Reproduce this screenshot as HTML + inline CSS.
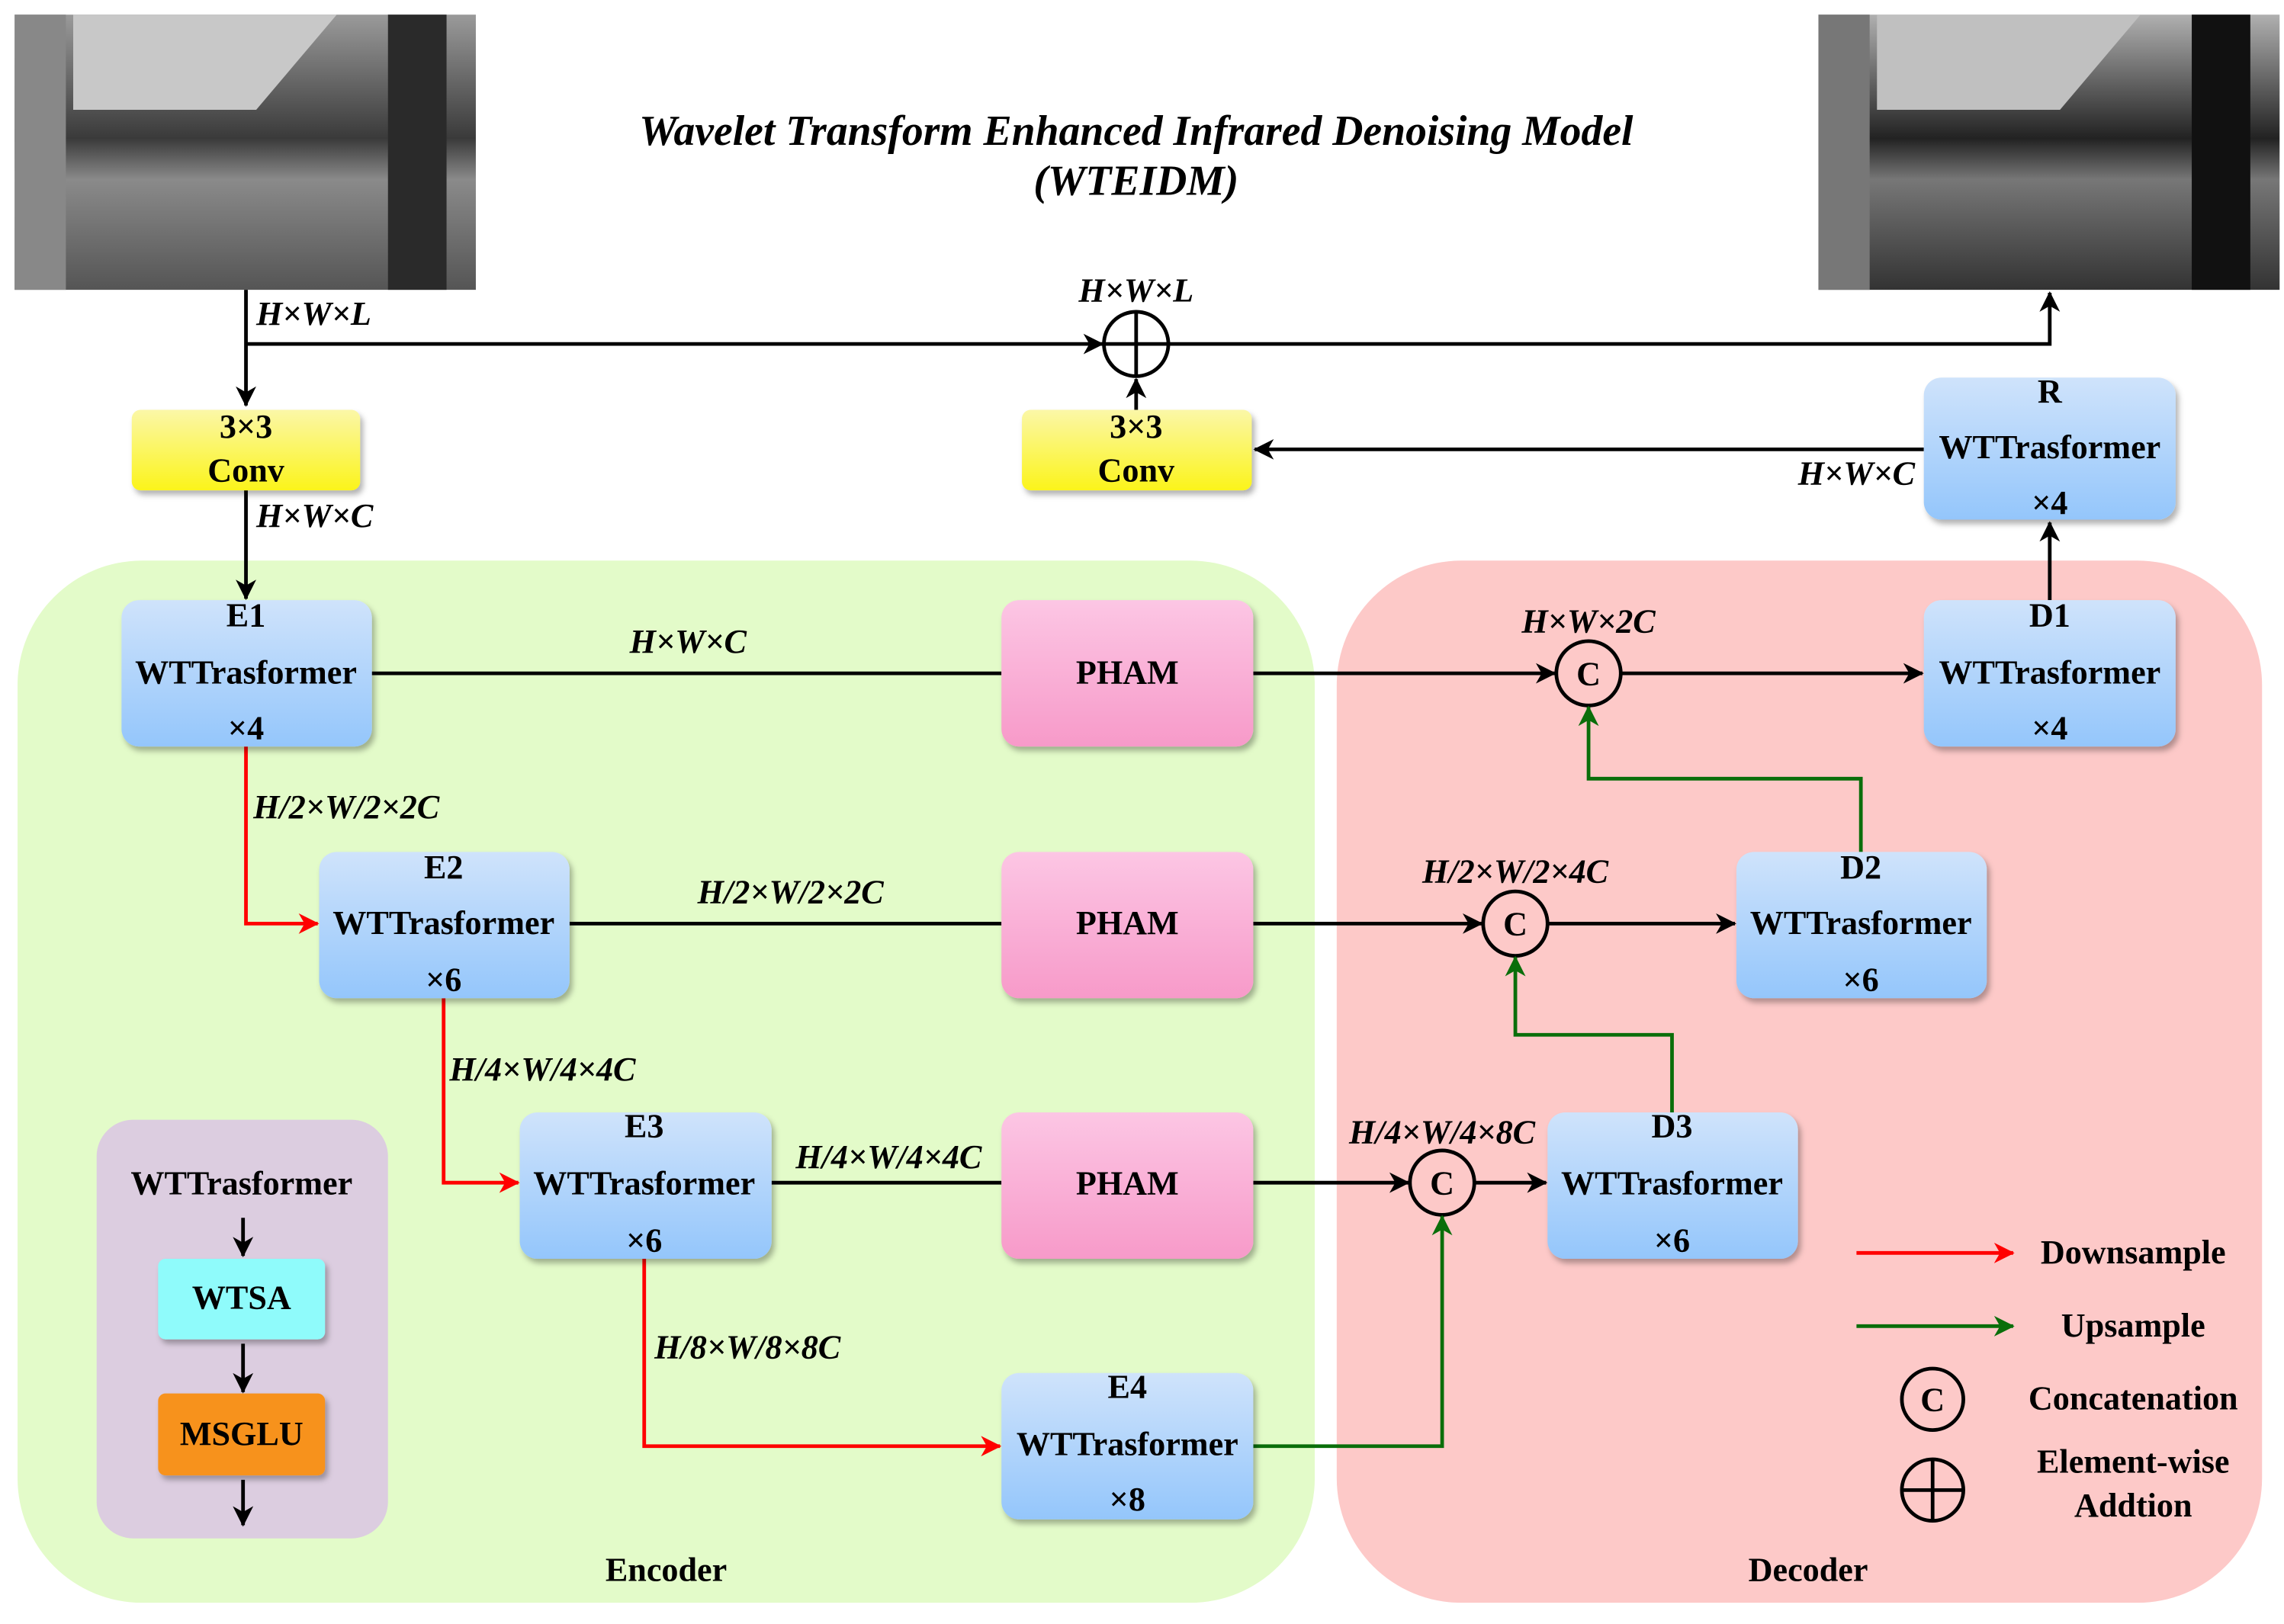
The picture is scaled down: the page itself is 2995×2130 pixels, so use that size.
<!DOCTYPE html>
<html><head><meta charset="utf-8"><style>html,body{margin:0;padding:0;background:#fff}svg{display:block}</style></head>
<body>
<svg width="2995" height="2130" viewBox="0 0 1560 1109.5" preserveAspectRatio="none" xmlns="http://www.w3.org/2000/svg" font-family="Liberation Serif, serif" font-weight="bold">
<defs>
<linearGradient id="bl" x1="0" y1="0" x2="0" y2="1"><stop offset="0" stop-color="#cfe3fb"/><stop offset="1" stop-color="#94c6fb"/></linearGradient>
<linearGradient id="pk" x1="0" y1="0" x2="0" y2="1"><stop offset="0" stop-color="#fcc6e4"/><stop offset="1" stop-color="#f79ac9"/></linearGradient>
<linearGradient id="ye" x1="0" y1="0" x2="0" y2="1"><stop offset="0" stop-color="#fbf7a8"/><stop offset="1" stop-color="#fbf41a"/></linearGradient>
<linearGradient id="im1" x1="0" y1="0" x2="0" y2="1"><stop offset="0" stop-color="#9a9a9a"/><stop offset="0.45" stop-color="#3a3a3a"/><stop offset="0.6" stop-color="#8a8a8a"/><stop offset="1" stop-color="#555"/></linearGradient>
<linearGradient id="im2" x1="0" y1="0" x2="0" y2="1"><stop offset="0" stop-color="#b0b0b0"/><stop offset="0.45" stop-color="#222"/><stop offset="0.6" stop-color="#777"/><stop offset="1" stop-color="#333"/></linearGradient>
<filter id="sh" x="-10%" y="-10%" width="130%" height="140%"><feDropShadow dx="2" dy="3" stdDeviation="2" flood-color="#000" flood-opacity="0.3"/></filter>
<marker id="ak" markerWidth="14" markerHeight="14" refX="13" refY="7" orient="auto" markerUnits="userSpaceOnUse"><path d="M0,0 L14,7 L0,14 L4,7z" fill="#000"/></marker>
<marker id="ar" markerWidth="14" markerHeight="14" refX="13" refY="7" orient="auto" markerUnits="userSpaceOnUse"><path d="M0,0 L14,7 L0,14 L4,7z" fill="#f00"/></marker>
<marker id="ag" markerWidth="14" markerHeight="14" refX="13" refY="7" orient="auto" markerUnits="userSpaceOnUse"><path d="M0,0 L14,7 L0,14 L4,7z" fill="#0a6e0a"/></marker>
</defs>

<!-- images -->
<rect x="10" y="10" width="315" height="188" fill="url(#im1)"/>
<rect x="10" y="10" width="35" height="188" fill="#888"/>
<rect x="265" y="10" width="40" height="188" fill="#2a2a2a"/>
<polygon points="50,10 230,10 175,75 50,75" fill="#c8c8c8"/>
<rect x="1242" y="10" width="315" height="188" fill="url(#im2)"/>
<rect x="1242" y="10" width="35" height="188" fill="#777"/>
<rect x="1497" y="10" width="40" height="188" fill="#111"/>
<polygon points="1282,10 1462,10 1407,75 1282,75" fill="#c0c0c0"/>

<text x="776" y="99" text-anchor="middle" font-size="29" font-style="italic">Wavelet Transform Enhanced Infrared Denoising Model</text>
<text x="776" y="133" text-anchor="middle" font-size="29" font-style="italic">(WTEIDM)</text>

<!-- bg panels -->
<rect x="12" y="383" width="886" height="712" rx="85" fill="#e3fbc9"/>
<rect x="913" y="383" width="632" height="712" rx="85" fill="#fdc9c8"/>
<text x="455" y="1080" text-anchor="middle" font-size="23">Encoder</text>
<text x="1235" y="1080" text-anchor="middle" font-size="23">Decoder</text>
<rect x="66" y="765" width="199" height="286" rx="25" fill="#dccde0"/>

<g stroke="#000" stroke-width="2.5" fill="none">
<line x1="168" y1="198" x2="168" y2="277" marker-end="url(#ak)"/>
<line x1="168" y1="235" x2="753" y2="235" marker-end="url(#ak)"/>
<polyline points="798,235 1400,235 1400,200" marker-end="url(#ak)"/>
<line x1="776" y1="280" x2="776" y2="259" marker-end="url(#ak)"/>
<line x1="1314" y1="307" x2="857" y2="307" marker-end="url(#ak)"/>
<line x1="1400" y1="410" x2="1400" y2="357" marker-end="url(#ak)"/>
<line x1="168" y1="335" x2="168" y2="409" marker-end="url(#ak)"/>
<line x1="254" y1="460" x2="684" y2="460"/>
<line x1="856" y1="460" x2="1062" y2="460" marker-end="url(#ak)"/>
<line x1="1107" y1="460" x2="1313" y2="460" marker-end="url(#ak)"/>
<line x1="389" y1="631" x2="684" y2="631"/>
<line x1="856" y1="631" x2="1012" y2="631" marker-end="url(#ak)"/>
<line x1="1057" y1="631" x2="1185" y2="631" marker-end="url(#ak)"/>
<line x1="527" y1="808" x2="684" y2="808"/>
<line x1="856" y1="808" x2="962" y2="808" marker-end="url(#ak)"/>
<line x1="1007" y1="808" x2="1056" y2="808" marker-end="url(#ak)"/>
<circle cx="776" cy="235" r="22"/><line x1="754" y1="235" x2="798" y2="235"/><line x1="776" y1="213" x2="776" y2="257"/>
<circle cx="1085" cy="460" r="22"/><circle cx="1035" cy="631" r="22"/><circle cx="985" cy="808" r="22"/>
<circle cx="1320" cy="956" r="21"/>
<circle cx="1320" cy="1018" r="21"/><line x1="1299" y1="1018" x2="1341" y2="1018"/><line x1="1320" y1="997" x2="1320" y2="1039"/>
<line x1="166" y1="832" x2="166" y2="858" marker-end="url(#ak)"/>
<line x1="166" y1="918" x2="166" y2="951" marker-end="url(#ak)"/>
<line x1="166" y1="1011" x2="166" y2="1042" marker-end="url(#ak)"/>
</g>
<g stroke="#f00" stroke-width="2.5" fill="none">
<polyline points="168,510 168,631 217,631" marker-end="url(#ar)"/>
<polyline points="303,682 303,808 354,808" marker-end="url(#ar)"/>
<polyline points="440,860 440,988 683,988" marker-end="url(#ar)"/>
<line x1="1268" y1="856" x2="1375" y2="856" marker-end="url(#ar)"/>
</g>
<g stroke="#0a6e0a" stroke-width="2.5" fill="none">
<polyline points="1271,582 1271,532 1085,532 1085,483" marker-end="url(#ag)"/>
<polyline points="1142,760 1142,707 1035,707 1035,654" marker-end="url(#ag)"/>
<polyline points="856,988 985,988 985,831" marker-end="url(#ag)"/>
<line x1="1268" y1="906" x2="1375" y2="906" marker-end="url(#ag)"/>
</g>

<g font-size="23" text-anchor="middle">
<text x="1085" y="468">C</text><text x="1035" y="639">C</text><text x="985" y="816">C</text><text x="1320" y="964">C</text>
</g>

<!-- labels -->
<g font-size="23" font-style="italic">
<text x="175" y="222">H×W×L</text>
<text x="776" y="206" text-anchor="middle">H×W×L</text>
<text x="175" y="360">H×W×C</text>
<text x="1268" y="331" text-anchor="middle">H×W×C</text>
<text x="470" y="446" text-anchor="middle">H×W×C</text>
<text x="1085" y="432" text-anchor="middle">H×W×2C</text>
<text x="173" y="559">H/2×W/2×2C</text>
<text x="540" y="617" text-anchor="middle">H/2×W/2×2C</text>
<text x="1035" y="603" text-anchor="middle">H/2×W/2×4C</text>
<text x="307" y="738">H/4×W/4×4C</text>
<text x="607" y="798" text-anchor="middle">H/4×W/4×4C</text>
<text x="985" y="781" text-anchor="middle">H/4×W/4×8C</text>
<text x="447" y="928">H/8×W/8×8C</text>
</g>

<!-- boxes -->
<g filter="url(#sh)">
<rect x="90" y="280" width="156" height="55" rx="6" fill="url(#ye)"/>
<rect x="698" y="280" width="157" height="55" rx="6" fill="url(#ye)"/>
<rect x="1314" y="258" width="172" height="97" rx="12" fill="url(#bl)"/>
<rect x="83" y="410" width="171" height="100" rx="12" fill="url(#bl)"/>
<rect x="684" y="410" width="172" height="100" rx="12" fill="url(#pk)"/>
<rect x="1314" y="410" width="172" height="100" rx="12" fill="url(#bl)"/>
<rect x="218" y="582" width="171" height="100" rx="12" fill="url(#bl)"/>
<rect x="684" y="582" width="172" height="100" rx="12" fill="url(#pk)"/>
<rect x="1186" y="582" width="171" height="100" rx="12" fill="url(#bl)"/>
<rect x="355" y="760" width="172" height="100" rx="12" fill="url(#bl)"/>
<rect x="684" y="760" width="172" height="100" rx="12" fill="url(#pk)"/>
<rect x="1057" y="760" width="171" height="100" rx="12" fill="url(#bl)"/>
<rect x="684" y="938" width="172" height="100" rx="12" fill="url(#bl)"/>
<rect x="108" y="860" width="114" height="55" rx="5" fill="#8ffbfb"/>
<rect x="108" y="952" width="114" height="56" rx="5" fill="#f7921e"/>
</g>

<g font-size="23" text-anchor="middle">
<text x="168" y="299">3×3</text><text x="168" y="329">Conv</text>
<text x="776" y="299">3×3</text><text x="776" y="329">Conv</text>
<text x="1400" y="275">R</text><text x="1400" y="313">WTTrasformer</text><text x="1400" y="351">×4</text>
<text x="168" y="428">E1</text><text x="168" y="467">WTTrasformer</text><text x="168" y="505">×4</text>
<text x="770" y="467">PHAM</text>
<text x="1400" y="428">D1</text><text x="1400" y="467">WTTrasformer</text><text x="1400" y="505">×4</text>
<text x="303" y="600">E2</text><text x="303" y="638">WTTrasformer</text><text x="303" y="677">×6</text>
<text x="770" y="638">PHAM</text>
<text x="1271" y="600">D2</text><text x="1271" y="638">WTTrasformer</text><text x="1271" y="677">×6</text>
<text x="440" y="777">E3</text><text x="440" y="816">WTTrasformer</text><text x="440" y="855">×6</text>
<text x="770" y="816">PHAM</text>
<text x="1142" y="777">D3</text><text x="1142" y="816">WTTrasformer</text><text x="1142" y="855">×6</text>
<text x="770" y="955">E4</text><text x="770" y="994">WTTrasformer</text><text x="770" y="1032">×8</text>
<text x="165" y="816">WTTrasformer</text>
<text x="165" y="894">WTSA</text>
<text x="165" y="987">MSGLU</text>
<text x="1457" y="863">Downsample</text>
<text x="1457" y="913">Upsample</text>
<text x="1457" y="963">Concatenation</text>
<text x="1457" y="1006">Element-wise</text>
<text x="1457" y="1036">Addtion</text>
</g>
</svg>
</body></html>
